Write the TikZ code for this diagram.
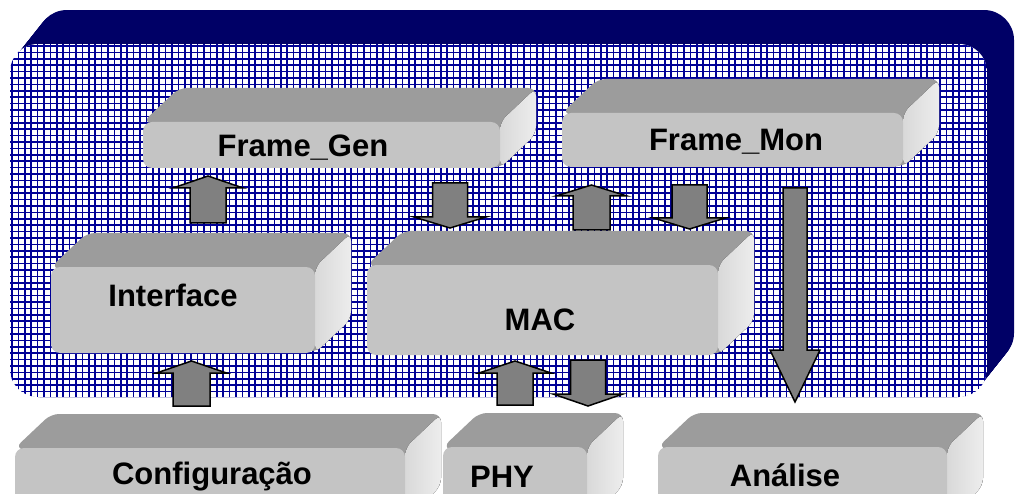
\documentclass[tikz,border=0pt]{standalone}
\usepackage{fontspec}
\setmainfont{Liberation Sans}
\usetikzlibrary{calc}

\definecolor{navyback}{RGB}{0,0,102}
\definecolor{gridblue}{RGB}{0,0,150}
\definecolor{slabgray}{RGB}{196,196,196}
\definecolor{slabtop}{RGB}{156,156,156}
\definecolor{arrowgray}{RGB}{128,128,128}

\tikzset{
  gridline/.style={gridblue, line width=1.6pt},
  slabback/.style={fill=slabtop, rounded corners=8pt},
  slabside/.style={left color=black!15, right color=black!7, rounded corners=8pt},
  frontface/.style={fill=slabgray, rounded corners=9pt, inner sep=0pt, outer sep=0pt, anchor=north west},
  boxtext/.style={font=\fontsize{31}{36}\selectfont\bfseries, inner sep=0pt},
  blkarrow/.style={fill=arrowgray, draw=black, line width=1.5pt},
  arrowshade/.style={fill=black!22},
}

\newcommand{\slab}[5]{%
  \fill[slabback] (#2,#3) -- (#2+36,#3-34) -- (#4+36,#3-34) -- (#4+36,#5-34) -- (#4,#5) -- cycle;
  \fill[slabside] (#4,#3) -- (#4+36,#3-34) -- (#4+36,#5-34) -- (#4,#5) -- cycle;
  \node[frontface, minimum width={#4-#2}, minimum height={#5-#3}] (#1) at (#2,#3) {};
}

\newcommand{\blockarrow}[5]{%
  \fill[arrowshade, xshift=5pt, yshift=-4pt] let \p1=(#1), \p2=(#2), \n1={ifthenelse(\y1>\y2,1,-1)} in
    ({\x1-#3pt},\y1) -- ({\x1-#3pt},{\y2+\n1*#5pt}) -- ({\x1-#4pt},{\y2+\n1*#5pt}) -- (\x2,\y2)
    -- ({\x1+#4pt},{\y2+\n1*#5pt}) -- ({\x1+#3pt},{\y2+\n1*#5pt}) -- ({\x1+#3pt},\y1) -- cycle;
  \filldraw[blkarrow] let \p1=(#1), \p2=(#2), \n1={ifthenelse(\y1>\y2,1,-1)} in
    ({\x1-#3pt},\y1) -- ({\x1-#3pt},{\y2+\n1*#5pt}) -- ({\x1-#4pt},{\y2+\n1*#5pt}) -- (\x2,\y2)
    -- ({\x1+#4pt},{\y2+\n1*#5pt}) -- ({\x1+#3pt},{\y2+\n1*#5pt}) -- ({\x1+#3pt},\y1) -- cycle;
}

\begin{document}
\begin{tikzpicture}[x=1pt, y=-1pt]
  \useasboundingbox (0,0) rectangle (1016,494);
  \clip (0,0) rectangle (1016,494);

  \foreach \t in {0,0.04,...,1.01}
    \fill[navyback, rounded corners=30pt] (10+27*\t,44-34*\t) rectangle (987+27*\t,397-34*\t);
  \begin{scope}
    \clip[rounded corners=28pt] (10,44) rectangle (987,397);
    \fill[white] (10,44) rectangle (987,397);
    \foreach \gx in {12,18.4,...,990} \draw[gridline] (\gx,44) -- (\gx,397);
    \foreach \gy in {46,52.4,...,400} \draw[gridline] (10,\gy) -- (987,\gy);
  \end{scope}

  \slab{fgenbox}{143}{122}{500}{168}
  \slab{fmonbox}{562}{113}{903}{167}
  \slab{ifcbox}{51}{267}{315}{353}
  \slab{macbox}{367}{265}{718}{355}
  \slab{cfgbox}{15}{448}{405}{520}
  \slab{phybox}{443}{447}{587}{520}
  \slab{anlbox}{658}{447}{947}{520}

  \node[boxtext] (fgen) at (303,148) {Frame\_Gen};
  \node[boxtext] (fmon) at (736,142) {Frame\_Mon};
  \node[boxtext] (ifc) at (173,295) {Interface};
  \node[boxtext] (mac) at (540,320) {MAC};
  \node[boxtext] (cfg) at (212,477) {Configuração};
  \node[boxtext] (phy) at (502,477) {PHY};
  \node[boxtext] (anl) at (785,475) {Análise};

  \coordinate (s1) at (208,223);   \coordinate (t1) at (208,176);
  \coordinate (s2) at (450,183);   \coordinate (t2) at (450,228);
  \coordinate (s3) at (591.5,230); \coordinate (t3) at (591.5,185);
  \coordinate (s4) at (689.5,185); \coordinate (t4) at (689.5,229);
  \coordinate (s5) at (191.5,406); \coordinate (t5) at (191.5,361);
  \coordinate (s6) at (515,405);   \coordinate (t6) at (515,361);
  \coordinate (s7) at (588,360);   \coordinate (t7) at (588,406);
  \coordinate (s8) at (795,188);   \coordinate (t8) at (795,402);

  \blockarrow{s1}{t1}{18}{35}{12}
  \blockarrow{s2}{t2}{17.5}{36}{11}
  \blockarrow{s3}{t3}{18.5}{35.5}{11}
  \blockarrow{s4}{t4}{17.5}{36}{11}
  \blockarrow{s5}{t5}{18.5}{35}{12}
  \blockarrow{s6}{t6}{18}{36}{12}
  \blockarrow{s7}{t7}{17.5}{35}{12}
  \blockarrow{s8}{t8}{12}{25}{52}
\end{tikzpicture}
\end{document}
